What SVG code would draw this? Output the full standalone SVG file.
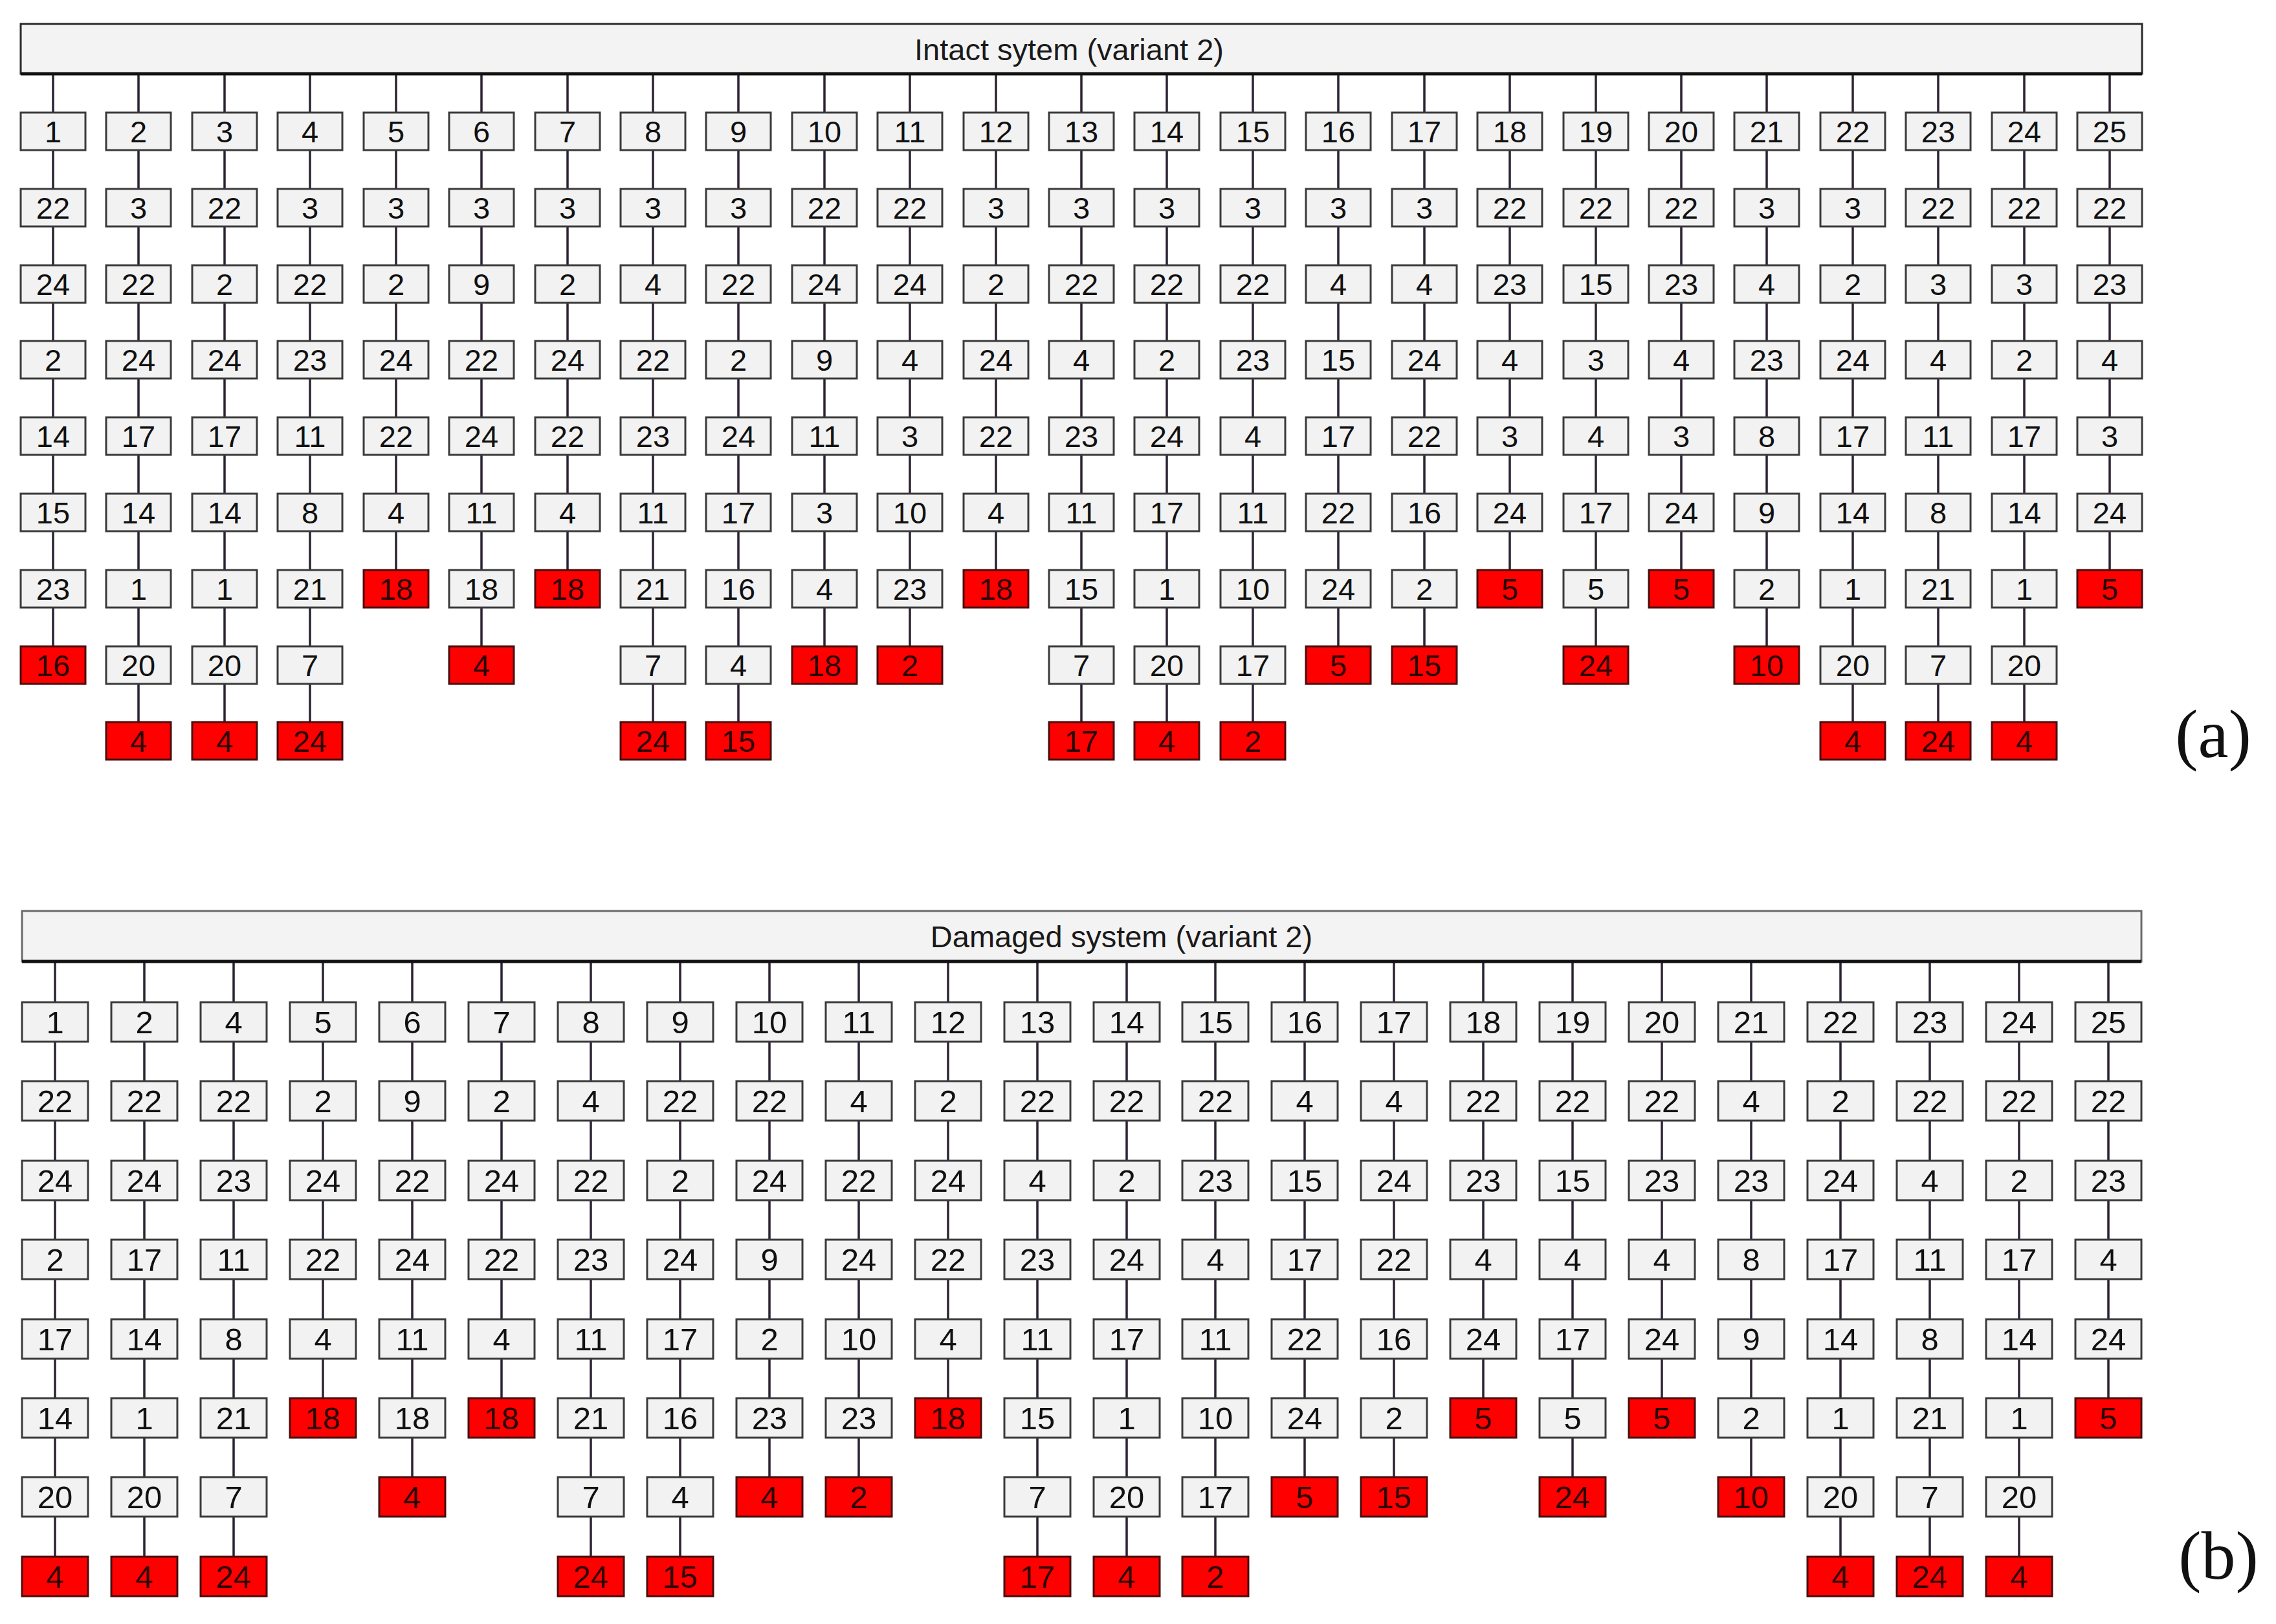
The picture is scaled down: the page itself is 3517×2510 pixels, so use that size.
<svg xmlns="http://www.w3.org/2000/svg" xmlns:xlink="http://www.w3.org/1999/xlink" width="3517" height="2510" viewBox="0 0 3517 2510">
<style>
.bg{fill:#ffffff}
.hd{fill:#f3f3f3;stroke:#2a2a2a;stroke-width:3}
.hdb{fill:#f3f3f3;stroke:#6a6a6a;stroke-width:3}
.hl{stroke:#111;stroke-width:5}
.ht{font-family:"Liberation Sans",Arial,sans-serif;font-size:47px;text-anchor:middle;fill:#1a1a1a}
.w{fill:#f2f2f2;stroke:#3a3a3a;stroke-width:3}
.r{fill:#ff0000;stroke:#4a0d0d;stroke-width:3}
.na text{font-family:"Liberation Sans",Arial,sans-serif;font-size:47px;text-anchor:middle;fill:#111}
.nb text{font-family:"Liberation Sans",Arial,sans-serif;font-size:49px;text-anchor:middle;fill:#111}
.na .rt,.nb .rt{fill:#2a0505}
.con path,.con use{stroke:#2b2233;stroke-width:3.5;fill:none}
.lab{font-family:"Liberation Serif","Times New Roman",serif;font-size:106px;text-anchor:middle;fill:#111}
</style>
<defs>
<path id="sa7" d="M0 114V174M0 232V292M0 350V410M0 468V527M0 585V645M0 703V763M0 821V881"/>
<path id="sa8" d="M0 114V174M0 232V292M0 350V410M0 468V527M0 585V645M0 703V763M0 821V881M0 939V999"/>
<path id="sa9" d="M0 114V174M0 232V292M0 350V410M0 468V527M0 585V645M0 703V763M0 821V881M0 939V999M0 1057V1116"/>
<path id="sb6" d="M0 1486V1549M0 1610V1671M0 1732V1794M0 1855V1916M0 1977V2039M0 2100V2161"/>
<path id="sb7" d="M0 1486V1549M0 1610V1671M0 1732V1794M0 1855V1916M0 1977V2039M0 2100V2161M0 2222V2283"/>
<path id="sb8" d="M0 1486V1549M0 1610V1671M0 1732V1794M0 1855V1916M0 1977V2039M0 2100V2161M0 2222V2283M0 2344V2406"/>
</defs>
<rect class="bg" x="0" y="0" width="3517" height="2510"/>

<g id="connectors" class="con">
<use href="#sa8" x="82"/><use href="#sa9" x="214"/><use href="#sa9" x="347"/><use href="#sa9" x="479"/><use href="#sa7" x="612"/>
<use href="#sa8" x="744"/><use href="#sa7" x="877"/><use href="#sa9" x="1009"/><use href="#sa9" x="1141"/><use href="#sa8" x="1274"/>
<use href="#sa8" x="1406"/><use href="#sa7" x="1539"/><use href="#sa9" x="1671"/><use href="#sa9" x="1803"/><use href="#sa9" x="1936"/>
<use href="#sa8" x="2068"/><use href="#sa8" x="2201"/><use href="#sa7" x="2333"/><use href="#sa8" x="2466"/><use href="#sa7" x="2598"/>
<use href="#sa8" x="2730"/><use href="#sa9" x="2863"/><use href="#sa9" x="2995"/><use href="#sa9" x="3128"/><use href="#sa7" x="3260"/>
<use href="#sb8" x="85"/><use href="#sb8" x="223"/><use href="#sb8" x="361"/><use href="#sb6" x="499"/><use href="#sb7" x="637"/>
<use href="#sb6" x="775"/><use href="#sb8" x="913"/><use href="#sb8" x="1051"/><use href="#sb7" x="1189"/><use href="#sb7" x="1327"/>
<use href="#sb6" x="1465"/><use href="#sb8" x="1603"/><use href="#sb8" x="1741"/><use href="#sb8" x="1878"/><use href="#sb7" x="2016"/>
<use href="#sb7" x="2154"/><use href="#sb6" x="2292"/><use href="#sb7" x="2430"/><use href="#sb6" x="2568"/><use href="#sb7" x="2706"/>
<use href="#sb8" x="2844"/><use href="#sb8" x="2982"/><use href="#sb8" x="3120"/><use href="#sb6" x="3258"/>
</g>

<g id="headerA"><rect class="hd" x="32" y="37" width="3278" height="77"/><line class="hl" x1="32" y1="114" x2="3310" y2="114"/><text class="ht" x="1652" y="93">Intact sytem (variant 2)</text></g>
<g id="headerB"><rect class="hdb" x="34" y="1408" width="3275" height="78"/><line class="hl" x1="34" y1="1486" x2="3309" y2="1486"/><text class="ht" x="1733" y="1464">Damaged system (variant 2)</text></g>

<g id="panelA" class="na">
<g id="a-col1" transform="translate(82 0)">
<g id="a1_1" transform="translate(0 174)"><rect class="w" x="-50" width="100" height="58"/><text y="46">1</text></g>
<g id="a1_2" transform="translate(0 292)"><rect class="w" x="-50" width="100" height="58"/><text y="46">22</text></g>
<g id="a1_3" transform="translate(0 410)"><rect class="w" x="-50" width="100" height="58"/><text y="46">24</text></g>
<g id="a1_4" transform="translate(0 527)"><rect class="w" x="-50" width="100" height="58"/><text y="46">2</text></g>
<g id="a1_5" transform="translate(0 645)"><rect class="w" x="-50" width="100" height="58"/><text y="46">14</text></g>
<g id="a1_6" transform="translate(0 763)"><rect class="w" x="-50" width="100" height="58"/><text y="46">15</text></g>
<g id="a1_7" transform="translate(0 881)"><rect class="w" x="-50" width="100" height="58"/><text y="46">23</text></g>
<g id="a1_8" transform="translate(0 999)"><rect class="r" x="-50" width="100" height="58"/><text class="rt" y="46">16</text></g>
</g>
<g id="a-col2" transform="translate(214 0)">
<g id="a2_1" transform="translate(0 174)"><rect class="w" x="-50" width="100" height="58"/><text y="46">2</text></g>
<g id="a2_2" transform="translate(0 292)"><rect class="w" x="-50" width="100" height="58"/><text y="46">3</text></g>
<g id="a2_3" transform="translate(0 410)"><rect class="w" x="-50" width="100" height="58"/><text y="46">22</text></g>
<g id="a2_4" transform="translate(0 527)"><rect class="w" x="-50" width="100" height="58"/><text y="46">24</text></g>
<g id="a2_5" transform="translate(0 645)"><rect class="w" x="-50" width="100" height="58"/><text y="46">17</text></g>
<g id="a2_6" transform="translate(0 763)"><rect class="w" x="-50" width="100" height="58"/><text y="46">14</text></g>
<g id="a2_7" transform="translate(0 881)"><rect class="w" x="-50" width="100" height="58"/><text y="46">1</text></g>
<g id="a2_8" transform="translate(0 999)"><rect class="w" x="-50" width="100" height="58"/><text y="46">20</text></g>
<g id="a2_9" transform="translate(0 1116)"><rect class="r" x="-50" width="100" height="58"/><text class="rt" y="46">4</text></g>
</g>
<g id="a-col3" transform="translate(347 0)">
<g id="a3_1" transform="translate(0 174)"><rect class="w" x="-50" width="100" height="58"/><text y="46">3</text></g>
<g id="a3_2" transform="translate(0 292)"><rect class="w" x="-50" width="100" height="58"/><text y="46">22</text></g>
<g id="a3_3" transform="translate(0 410)"><rect class="w" x="-50" width="100" height="58"/><text y="46">2</text></g>
<g id="a3_4" transform="translate(0 527)"><rect class="w" x="-50" width="100" height="58"/><text y="46">24</text></g>
<g id="a3_5" transform="translate(0 645)"><rect class="w" x="-50" width="100" height="58"/><text y="46">17</text></g>
<g id="a3_6" transform="translate(0 763)"><rect class="w" x="-50" width="100" height="58"/><text y="46">14</text></g>
<g id="a3_7" transform="translate(0 881)"><rect class="w" x="-50" width="100" height="58"/><text y="46">1</text></g>
<g id="a3_8" transform="translate(0 999)"><rect class="w" x="-50" width="100" height="58"/><text y="46">20</text></g>
<g id="a3_9" transform="translate(0 1116)"><rect class="r" x="-50" width="100" height="58"/><text class="rt" y="46">4</text></g>
</g>
<g id="a-col4" transform="translate(479 0)">
<g id="a4_1" transform="translate(0 174)"><rect class="w" x="-50" width="100" height="58"/><text y="46">4</text></g>
<g id="a4_2" transform="translate(0 292)"><rect class="w" x="-50" width="100" height="58"/><text y="46">3</text></g>
<g id="a4_3" transform="translate(0 410)"><rect class="w" x="-50" width="100" height="58"/><text y="46">22</text></g>
<g id="a4_4" transform="translate(0 527)"><rect class="w" x="-50" width="100" height="58"/><text y="46">23</text></g>
<g id="a4_5" transform="translate(0 645)"><rect class="w" x="-50" width="100" height="58"/><text y="46">11</text></g>
<g id="a4_6" transform="translate(0 763)"><rect class="w" x="-50" width="100" height="58"/><text y="46">8</text></g>
<g id="a4_7" transform="translate(0 881)"><rect class="w" x="-50" width="100" height="58"/><text y="46">21</text></g>
<g id="a4_8" transform="translate(0 999)"><rect class="w" x="-50" width="100" height="58"/><text y="46">7</text></g>
<g id="a4_9" transform="translate(0 1116)"><rect class="r" x="-50" width="100" height="58"/><text class="rt" y="46">24</text></g>
</g>
<g id="a-col5" transform="translate(612 0)">
<g id="a5_1" transform="translate(0 174)"><rect class="w" x="-50" width="100" height="58"/><text y="46">5</text></g>
<g id="a5_2" transform="translate(0 292)"><rect class="w" x="-50" width="100" height="58"/><text y="46">3</text></g>
<g id="a5_3" transform="translate(0 410)"><rect class="w" x="-50" width="100" height="58"/><text y="46">2</text></g>
<g id="a5_4" transform="translate(0 527)"><rect class="w" x="-50" width="100" height="58"/><text y="46">24</text></g>
<g id="a5_5" transform="translate(0 645)"><rect class="w" x="-50" width="100" height="58"/><text y="46">22</text></g>
<g id="a5_6" transform="translate(0 763)"><rect class="w" x="-50" width="100" height="58"/><text y="46">4</text></g>
<g id="a5_7" transform="translate(0 881)"><rect class="r" x="-50" width="100" height="58"/><text class="rt" y="46">18</text></g>
</g>
<g id="a-col6" transform="translate(744 0)">
<g id="a6_1" transform="translate(0 174)"><rect class="w" x="-50" width="100" height="58"/><text y="46">6</text></g>
<g id="a6_2" transform="translate(0 292)"><rect class="w" x="-50" width="100" height="58"/><text y="46">3</text></g>
<g id="a6_3" transform="translate(0 410)"><rect class="w" x="-50" width="100" height="58"/><text y="46">9</text></g>
<g id="a6_4" transform="translate(0 527)"><rect class="w" x="-50" width="100" height="58"/><text y="46">22</text></g>
<g id="a6_5" transform="translate(0 645)"><rect class="w" x="-50" width="100" height="58"/><text y="46">24</text></g>
<g id="a6_6" transform="translate(0 763)"><rect class="w" x="-50" width="100" height="58"/><text y="46">11</text></g>
<g id="a6_7" transform="translate(0 881)"><rect class="w" x="-50" width="100" height="58"/><text y="46">18</text></g>
<g id="a6_8" transform="translate(0 999)"><rect class="r" x="-50" width="100" height="58"/><text class="rt" y="46">4</text></g>
</g>
<g id="a-col7" transform="translate(877 0)">
<g id="a7_1" transform="translate(0 174)"><rect class="w" x="-50" width="100" height="58"/><text y="46">7</text></g>
<g id="a7_2" transform="translate(0 292)"><rect class="w" x="-50" width="100" height="58"/><text y="46">3</text></g>
<g id="a7_3" transform="translate(0 410)"><rect class="w" x="-50" width="100" height="58"/><text y="46">2</text></g>
<g id="a7_4" transform="translate(0 527)"><rect class="w" x="-50" width="100" height="58"/><text y="46">24</text></g>
<g id="a7_5" transform="translate(0 645)"><rect class="w" x="-50" width="100" height="58"/><text y="46">22</text></g>
<g id="a7_6" transform="translate(0 763)"><rect class="w" x="-50" width="100" height="58"/><text y="46">4</text></g>
<g id="a7_7" transform="translate(0 881)"><rect class="r" x="-50" width="100" height="58"/><text class="rt" y="46">18</text></g>
</g>
<g id="a-col8" transform="translate(1009 0)">
<g id="a8_1" transform="translate(0 174)"><rect class="w" x="-50" width="100" height="58"/><text y="46">8</text></g>
<g id="a8_2" transform="translate(0 292)"><rect class="w" x="-50" width="100" height="58"/><text y="46">3</text></g>
<g id="a8_3" transform="translate(0 410)"><rect class="w" x="-50" width="100" height="58"/><text y="46">4</text></g>
<g id="a8_4" transform="translate(0 527)"><rect class="w" x="-50" width="100" height="58"/><text y="46">22</text></g>
<g id="a8_5" transform="translate(0 645)"><rect class="w" x="-50" width="100" height="58"/><text y="46">23</text></g>
<g id="a8_6" transform="translate(0 763)"><rect class="w" x="-50" width="100" height="58"/><text y="46">11</text></g>
<g id="a8_7" transform="translate(0 881)"><rect class="w" x="-50" width="100" height="58"/><text y="46">21</text></g>
<g id="a8_8" transform="translate(0 999)"><rect class="w" x="-50" width="100" height="58"/><text y="46">7</text></g>
<g id="a8_9" transform="translate(0 1116)"><rect class="r" x="-50" width="100" height="58"/><text class="rt" y="46">24</text></g>
</g>
<g id="a-col9" transform="translate(1141 0)">
<g id="a9_1" transform="translate(0 174)"><rect class="w" x="-50" width="100" height="58"/><text y="46">9</text></g>
<g id="a9_2" transform="translate(0 292)"><rect class="w" x="-50" width="100" height="58"/><text y="46">3</text></g>
<g id="a9_3" transform="translate(0 410)"><rect class="w" x="-50" width="100" height="58"/><text y="46">22</text></g>
<g id="a9_4" transform="translate(0 527)"><rect class="w" x="-50" width="100" height="58"/><text y="46">2</text></g>
<g id="a9_5" transform="translate(0 645)"><rect class="w" x="-50" width="100" height="58"/><text y="46">24</text></g>
<g id="a9_6" transform="translate(0 763)"><rect class="w" x="-50" width="100" height="58"/><text y="46">17</text></g>
<g id="a9_7" transform="translate(0 881)"><rect class="w" x="-50" width="100" height="58"/><text y="46">16</text></g>
<g id="a9_8" transform="translate(0 999)"><rect class="w" x="-50" width="100" height="58"/><text y="46">4</text></g>
<g id="a9_9" transform="translate(0 1116)"><rect class="r" x="-50" width="100" height="58"/><text class="rt" y="46">15</text></g>
</g>
<g id="a-col10" transform="translate(1274 0)">
<g id="a10_1" transform="translate(0 174)"><rect class="w" x="-50" width="100" height="58"/><text y="46">10</text></g>
<g id="a10_2" transform="translate(0 292)"><rect class="w" x="-50" width="100" height="58"/><text y="46">22</text></g>
<g id="a10_3" transform="translate(0 410)"><rect class="w" x="-50" width="100" height="58"/><text y="46">24</text></g>
<g id="a10_4" transform="translate(0 527)"><rect class="w" x="-50" width="100" height="58"/><text y="46">9</text></g>
<g id="a10_5" transform="translate(0 645)"><rect class="w" x="-50" width="100" height="58"/><text y="46">11</text></g>
<g id="a10_6" transform="translate(0 763)"><rect class="w" x="-50" width="100" height="58"/><text y="46">3</text></g>
<g id="a10_7" transform="translate(0 881)"><rect class="w" x="-50" width="100" height="58"/><text y="46">4</text></g>
<g id="a10_8" transform="translate(0 999)"><rect class="r" x="-50" width="100" height="58"/><text class="rt" y="46">18</text></g>
</g>
<g id="a-col11" transform="translate(1406 0)">
<g id="a11_1" transform="translate(0 174)"><rect class="w" x="-50" width="100" height="58"/><text y="46">11</text></g>
<g id="a11_2" transform="translate(0 292)"><rect class="w" x="-50" width="100" height="58"/><text y="46">22</text></g>
<g id="a11_3" transform="translate(0 410)"><rect class="w" x="-50" width="100" height="58"/><text y="46">24</text></g>
<g id="a11_4" transform="translate(0 527)"><rect class="w" x="-50" width="100" height="58"/><text y="46">4</text></g>
<g id="a11_5" transform="translate(0 645)"><rect class="w" x="-50" width="100" height="58"/><text y="46">3</text></g>
<g id="a11_6" transform="translate(0 763)"><rect class="w" x="-50" width="100" height="58"/><text y="46">10</text></g>
<g id="a11_7" transform="translate(0 881)"><rect class="w" x="-50" width="100" height="58"/><text y="46">23</text></g>
<g id="a11_8" transform="translate(0 999)"><rect class="r" x="-50" width="100" height="58"/><text class="rt" y="46">2</text></g>
</g>
<g id="a-col12" transform="translate(1539 0)">
<g id="a12_1" transform="translate(0 174)"><rect class="w" x="-50" width="100" height="58"/><text y="46">12</text></g>
<g id="a12_2" transform="translate(0 292)"><rect class="w" x="-50" width="100" height="58"/><text y="46">3</text></g>
<g id="a12_3" transform="translate(0 410)"><rect class="w" x="-50" width="100" height="58"/><text y="46">2</text></g>
<g id="a12_4" transform="translate(0 527)"><rect class="w" x="-50" width="100" height="58"/><text y="46">24</text></g>
<g id="a12_5" transform="translate(0 645)"><rect class="w" x="-50" width="100" height="58"/><text y="46">22</text></g>
<g id="a12_6" transform="translate(0 763)"><rect class="w" x="-50" width="100" height="58"/><text y="46">4</text></g>
<g id="a12_7" transform="translate(0 881)"><rect class="r" x="-50" width="100" height="58"/><text class="rt" y="46">18</text></g>
</g>
<g id="a-col13" transform="translate(1671 0)">
<g id="a13_1" transform="translate(0 174)"><rect class="w" x="-50" width="100" height="58"/><text y="46">13</text></g>
<g id="a13_2" transform="translate(0 292)"><rect class="w" x="-50" width="100" height="58"/><text y="46">3</text></g>
<g id="a13_3" transform="translate(0 410)"><rect class="w" x="-50" width="100" height="58"/><text y="46">22</text></g>
<g id="a13_4" transform="translate(0 527)"><rect class="w" x="-50" width="100" height="58"/><text y="46">4</text></g>
<g id="a13_5" transform="translate(0 645)"><rect class="w" x="-50" width="100" height="58"/><text y="46">23</text></g>
<g id="a13_6" transform="translate(0 763)"><rect class="w" x="-50" width="100" height="58"/><text y="46">11</text></g>
<g id="a13_7" transform="translate(0 881)"><rect class="w" x="-50" width="100" height="58"/><text y="46">15</text></g>
<g id="a13_8" transform="translate(0 999)"><rect class="w" x="-50" width="100" height="58"/><text y="46">7</text></g>
<g id="a13_9" transform="translate(0 1116)"><rect class="r" x="-50" width="100" height="58"/><text class="rt" y="46">17</text></g>
</g>
<g id="a-col14" transform="translate(1803 0)">
<g id="a14_1" transform="translate(0 174)"><rect class="w" x="-50" width="100" height="58"/><text y="46">14</text></g>
<g id="a14_2" transform="translate(0 292)"><rect class="w" x="-50" width="100" height="58"/><text y="46">3</text></g>
<g id="a14_3" transform="translate(0 410)"><rect class="w" x="-50" width="100" height="58"/><text y="46">22</text></g>
<g id="a14_4" transform="translate(0 527)"><rect class="w" x="-50" width="100" height="58"/><text y="46">2</text></g>
<g id="a14_5" transform="translate(0 645)"><rect class="w" x="-50" width="100" height="58"/><text y="46">24</text></g>
<g id="a14_6" transform="translate(0 763)"><rect class="w" x="-50" width="100" height="58"/><text y="46">17</text></g>
<g id="a14_7" transform="translate(0 881)"><rect class="w" x="-50" width="100" height="58"/><text y="46">1</text></g>
<g id="a14_8" transform="translate(0 999)"><rect class="w" x="-50" width="100" height="58"/><text y="46">20</text></g>
<g id="a14_9" transform="translate(0 1116)"><rect class="r" x="-50" width="100" height="58"/><text class="rt" y="46">4</text></g>
</g>
<g id="a-col15" transform="translate(1936 0)">
<g id="a15_1" transform="translate(0 174)"><rect class="w" x="-50" width="100" height="58"/><text y="46">15</text></g>
<g id="a15_2" transform="translate(0 292)"><rect class="w" x="-50" width="100" height="58"/><text y="46">3</text></g>
<g id="a15_3" transform="translate(0 410)"><rect class="w" x="-50" width="100" height="58"/><text y="46">22</text></g>
<g id="a15_4" transform="translate(0 527)"><rect class="w" x="-50" width="100" height="58"/><text y="46">23</text></g>
<g id="a15_5" transform="translate(0 645)"><rect class="w" x="-50" width="100" height="58"/><text y="46">4</text></g>
<g id="a15_6" transform="translate(0 763)"><rect class="w" x="-50" width="100" height="58"/><text y="46">11</text></g>
<g id="a15_7" transform="translate(0 881)"><rect class="w" x="-50" width="100" height="58"/><text y="46">10</text></g>
<g id="a15_8" transform="translate(0 999)"><rect class="w" x="-50" width="100" height="58"/><text y="46">17</text></g>
<g id="a15_9" transform="translate(0 1116)"><rect class="r" x="-50" width="100" height="58"/><text class="rt" y="46">2</text></g>
</g>
<g id="a-col16" transform="translate(2068 0)">
<g id="a16_1" transform="translate(0 174)"><rect class="w" x="-50" width="100" height="58"/><text y="46">16</text></g>
<g id="a16_2" transform="translate(0 292)"><rect class="w" x="-50" width="100" height="58"/><text y="46">3</text></g>
<g id="a16_3" transform="translate(0 410)"><rect class="w" x="-50" width="100" height="58"/><text y="46">4</text></g>
<g id="a16_4" transform="translate(0 527)"><rect class="w" x="-50" width="100" height="58"/><text y="46">15</text></g>
<g id="a16_5" transform="translate(0 645)"><rect class="w" x="-50" width="100" height="58"/><text y="46">17</text></g>
<g id="a16_6" transform="translate(0 763)"><rect class="w" x="-50" width="100" height="58"/><text y="46">22</text></g>
<g id="a16_7" transform="translate(0 881)"><rect class="w" x="-50" width="100" height="58"/><text y="46">24</text></g>
<g id="a16_8" transform="translate(0 999)"><rect class="r" x="-50" width="100" height="58"/><text class="rt" y="46">5</text></g>
</g>
<g id="a-col17" transform="translate(2201 0)">
<g id="a17_1" transform="translate(0 174)"><rect class="w" x="-50" width="100" height="58"/><text y="46">17</text></g>
<g id="a17_2" transform="translate(0 292)"><rect class="w" x="-50" width="100" height="58"/><text y="46">3</text></g>
<g id="a17_3" transform="translate(0 410)"><rect class="w" x="-50" width="100" height="58"/><text y="46">4</text></g>
<g id="a17_4" transform="translate(0 527)"><rect class="w" x="-50" width="100" height="58"/><text y="46">24</text></g>
<g id="a17_5" transform="translate(0 645)"><rect class="w" x="-50" width="100" height="58"/><text y="46">22</text></g>
<g id="a17_6" transform="translate(0 763)"><rect class="w" x="-50" width="100" height="58"/><text y="46">16</text></g>
<g id="a17_7" transform="translate(0 881)"><rect class="w" x="-50" width="100" height="58"/><text y="46">2</text></g>
<g id="a17_8" transform="translate(0 999)"><rect class="r" x="-50" width="100" height="58"/><text class="rt" y="46">15</text></g>
</g>
<g id="a-col18" transform="translate(2333 0)">
<g id="a18_1" transform="translate(0 174)"><rect class="w" x="-50" width="100" height="58"/><text y="46">18</text></g>
<g id="a18_2" transform="translate(0 292)"><rect class="w" x="-50" width="100" height="58"/><text y="46">22</text></g>
<g id="a18_3" transform="translate(0 410)"><rect class="w" x="-50" width="100" height="58"/><text y="46">23</text></g>
<g id="a18_4" transform="translate(0 527)"><rect class="w" x="-50" width="100" height="58"/><text y="46">4</text></g>
<g id="a18_5" transform="translate(0 645)"><rect class="w" x="-50" width="100" height="58"/><text y="46">3</text></g>
<g id="a18_6" transform="translate(0 763)"><rect class="w" x="-50" width="100" height="58"/><text y="46">24</text></g>
<g id="a18_7" transform="translate(0 881)"><rect class="r" x="-50" width="100" height="58"/><text class="rt" y="46">5</text></g>
</g>
<g id="a-col19" transform="translate(2466 0)">
<g id="a19_1" transform="translate(0 174)"><rect class="w" x="-50" width="100" height="58"/><text y="46">19</text></g>
<g id="a19_2" transform="translate(0 292)"><rect class="w" x="-50" width="100" height="58"/><text y="46">22</text></g>
<g id="a19_3" transform="translate(0 410)"><rect class="w" x="-50" width="100" height="58"/><text y="46">15</text></g>
<g id="a19_4" transform="translate(0 527)"><rect class="w" x="-50" width="100" height="58"/><text y="46">3</text></g>
<g id="a19_5" transform="translate(0 645)"><rect class="w" x="-50" width="100" height="58"/><text y="46">4</text></g>
<g id="a19_6" transform="translate(0 763)"><rect class="w" x="-50" width="100" height="58"/><text y="46">17</text></g>
<g id="a19_7" transform="translate(0 881)"><rect class="w" x="-50" width="100" height="58"/><text y="46">5</text></g>
<g id="a19_8" transform="translate(0 999)"><rect class="r" x="-50" width="100" height="58"/><text class="rt" y="46">24</text></g>
</g>
<g id="a-col20" transform="translate(2598 0)">
<g id="a20_1" transform="translate(0 174)"><rect class="w" x="-50" width="100" height="58"/><text y="46">20</text></g>
<g id="a20_2" transform="translate(0 292)"><rect class="w" x="-50" width="100" height="58"/><text y="46">22</text></g>
<g id="a20_3" transform="translate(0 410)"><rect class="w" x="-50" width="100" height="58"/><text y="46">23</text></g>
<g id="a20_4" transform="translate(0 527)"><rect class="w" x="-50" width="100" height="58"/><text y="46">4</text></g>
<g id="a20_5" transform="translate(0 645)"><rect class="w" x="-50" width="100" height="58"/><text y="46">3</text></g>
<g id="a20_6" transform="translate(0 763)"><rect class="w" x="-50" width="100" height="58"/><text y="46">24</text></g>
<g id="a20_7" transform="translate(0 881)"><rect class="r" x="-50" width="100" height="58"/><text class="rt" y="46">5</text></g>
</g>
<g id="a-col21" transform="translate(2730 0)">
<g id="a21_1" transform="translate(0 174)"><rect class="w" x="-50" width="100" height="58"/><text y="46">21</text></g>
<g id="a21_2" transform="translate(0 292)"><rect class="w" x="-50" width="100" height="58"/><text y="46">3</text></g>
<g id="a21_3" transform="translate(0 410)"><rect class="w" x="-50" width="100" height="58"/><text y="46">4</text></g>
<g id="a21_4" transform="translate(0 527)"><rect class="w" x="-50" width="100" height="58"/><text y="46">23</text></g>
<g id="a21_5" transform="translate(0 645)"><rect class="w" x="-50" width="100" height="58"/><text y="46">8</text></g>
<g id="a21_6" transform="translate(0 763)"><rect class="w" x="-50" width="100" height="58"/><text y="46">9</text></g>
<g id="a21_7" transform="translate(0 881)"><rect class="w" x="-50" width="100" height="58"/><text y="46">2</text></g>
<g id="a21_8" transform="translate(0 999)"><rect class="r" x="-50" width="100" height="58"/><text class="rt" y="46">10</text></g>
</g>
<g id="a-col22" transform="translate(2863 0)">
<g id="a22_1" transform="translate(0 174)"><rect class="w" x="-50" width="100" height="58"/><text y="46">22</text></g>
<g id="a22_2" transform="translate(0 292)"><rect class="w" x="-50" width="100" height="58"/><text y="46">3</text></g>
<g id="a22_3" transform="translate(0 410)"><rect class="w" x="-50" width="100" height="58"/><text y="46">2</text></g>
<g id="a22_4" transform="translate(0 527)"><rect class="w" x="-50" width="100" height="58"/><text y="46">24</text></g>
<g id="a22_5" transform="translate(0 645)"><rect class="w" x="-50" width="100" height="58"/><text y="46">17</text></g>
<g id="a22_6" transform="translate(0 763)"><rect class="w" x="-50" width="100" height="58"/><text y="46">14</text></g>
<g id="a22_7" transform="translate(0 881)"><rect class="w" x="-50" width="100" height="58"/><text y="46">1</text></g>
<g id="a22_8" transform="translate(0 999)"><rect class="w" x="-50" width="100" height="58"/><text y="46">20</text></g>
<g id="a22_9" transform="translate(0 1116)"><rect class="r" x="-50" width="100" height="58"/><text class="rt" y="46">4</text></g>
</g>
<g id="a-col23" transform="translate(2995 0)">
<g id="a23_1" transform="translate(0 174)"><rect class="w" x="-50" width="100" height="58"/><text y="46">23</text></g>
<g id="a23_2" transform="translate(0 292)"><rect class="w" x="-50" width="100" height="58"/><text y="46">22</text></g>
<g id="a23_3" transform="translate(0 410)"><rect class="w" x="-50" width="100" height="58"/><text y="46">3</text></g>
<g id="a23_4" transform="translate(0 527)"><rect class="w" x="-50" width="100" height="58"/><text y="46">4</text></g>
<g id="a23_5" transform="translate(0 645)"><rect class="w" x="-50" width="100" height="58"/><text y="46">11</text></g>
<g id="a23_6" transform="translate(0 763)"><rect class="w" x="-50" width="100" height="58"/><text y="46">8</text></g>
<g id="a23_7" transform="translate(0 881)"><rect class="w" x="-50" width="100" height="58"/><text y="46">21</text></g>
<g id="a23_8" transform="translate(0 999)"><rect class="w" x="-50" width="100" height="58"/><text y="46">7</text></g>
<g id="a23_9" transform="translate(0 1116)"><rect class="r" x="-50" width="100" height="58"/><text class="rt" y="46">24</text></g>
</g>
<g id="a-col24" transform="translate(3128 0)">
<g id="a24_1" transform="translate(0 174)"><rect class="w" x="-50" width="100" height="58"/><text y="46">24</text></g>
<g id="a24_2" transform="translate(0 292)"><rect class="w" x="-50" width="100" height="58"/><text y="46">22</text></g>
<g id="a24_3" transform="translate(0 410)"><rect class="w" x="-50" width="100" height="58"/><text y="46">3</text></g>
<g id="a24_4" transform="translate(0 527)"><rect class="w" x="-50" width="100" height="58"/><text y="46">2</text></g>
<g id="a24_5" transform="translate(0 645)"><rect class="w" x="-50" width="100" height="58"/><text y="46">17</text></g>
<g id="a24_6" transform="translate(0 763)"><rect class="w" x="-50" width="100" height="58"/><text y="46">14</text></g>
<g id="a24_7" transform="translate(0 881)"><rect class="w" x="-50" width="100" height="58"/><text y="46">1</text></g>
<g id="a24_8" transform="translate(0 999)"><rect class="w" x="-50" width="100" height="58"/><text y="46">20</text></g>
<g id="a24_9" transform="translate(0 1116)"><rect class="r" x="-50" width="100" height="58"/><text class="rt" y="46">4</text></g>
</g>
<g id="a-col25" transform="translate(3260 0)">
<g id="a25_1" transform="translate(0 174)"><rect class="w" x="-50" width="100" height="58"/><text y="46">25</text></g>
<g id="a25_2" transform="translate(0 292)"><rect class="w" x="-50" width="100" height="58"/><text y="46">22</text></g>
<g id="a25_3" transform="translate(0 410)"><rect class="w" x="-50" width="100" height="58"/><text y="46">23</text></g>
<g id="a25_4" transform="translate(0 527)"><rect class="w" x="-50" width="100" height="58"/><text y="46">4</text></g>
<g id="a25_5" transform="translate(0 645)"><rect class="w" x="-50" width="100" height="58"/><text y="46">3</text></g>
<g id="a25_6" transform="translate(0 763)"><rect class="w" x="-50" width="100" height="58"/><text y="46">24</text></g>
<g id="a25_7" transform="translate(0 881)"><rect class="r" x="-50" width="100" height="58"/><text class="rt" y="46">5</text></g>
</g>
</g>

<g id="panelB" class="nb">
<g id="b-col1" transform="translate(85 0)">
<g id="b1_1" transform="translate(0 1549)"><rect class="w" x="-51" width="102" height="61"/><text y="48">1</text></g>
<g id="b1_2" transform="translate(0 1671)"><rect class="w" x="-51" width="102" height="61"/><text y="48">22</text></g>
<g id="b1_3" transform="translate(0 1794)"><rect class="w" x="-51" width="102" height="61"/><text y="48">24</text></g>
<g id="b1_4" transform="translate(0 1916)"><rect class="w" x="-51" width="102" height="61"/><text y="48">2</text></g>
<g id="b1_5" transform="translate(0 2039)"><rect class="w" x="-51" width="102" height="61"/><text y="48">17</text></g>
<g id="b1_6" transform="translate(0 2161)"><rect class="w" x="-51" width="102" height="61"/><text y="48">14</text></g>
<g id="b1_7" transform="translate(0 2283)"><rect class="w" x="-51" width="102" height="61"/><text y="48">20</text></g>
<g id="b1_8" transform="translate(0 2406)"><rect class="r" x="-51" width="102" height="61"/><text class="rt" y="48">4</text></g>
</g>
<g id="b-col2" transform="translate(223 0)">
<g id="b2_1" transform="translate(0 1549)"><rect class="w" x="-51" width="102" height="61"/><text y="48">2</text></g>
<g id="b2_2" transform="translate(0 1671)"><rect class="w" x="-51" width="102" height="61"/><text y="48">22</text></g>
<g id="b2_3" transform="translate(0 1794)"><rect class="w" x="-51" width="102" height="61"/><text y="48">24</text></g>
<g id="b2_4" transform="translate(0 1916)"><rect class="w" x="-51" width="102" height="61"/><text y="48">17</text></g>
<g id="b2_5" transform="translate(0 2039)"><rect class="w" x="-51" width="102" height="61"/><text y="48">14</text></g>
<g id="b2_6" transform="translate(0 2161)"><rect class="w" x="-51" width="102" height="61"/><text y="48">1</text></g>
<g id="b2_7" transform="translate(0 2283)"><rect class="w" x="-51" width="102" height="61"/><text y="48">20</text></g>
<g id="b2_8" transform="translate(0 2406)"><rect class="r" x="-51" width="102" height="61"/><text class="rt" y="48">4</text></g>
</g>
<g id="b-col4" transform="translate(361 0)">
<g id="b4_1" transform="translate(0 1549)"><rect class="w" x="-51" width="102" height="61"/><text y="48">4</text></g>
<g id="b4_2" transform="translate(0 1671)"><rect class="w" x="-51" width="102" height="61"/><text y="48">22</text></g>
<g id="b4_3" transform="translate(0 1794)"><rect class="w" x="-51" width="102" height="61"/><text y="48">23</text></g>
<g id="b4_4" transform="translate(0 1916)"><rect class="w" x="-51" width="102" height="61"/><text y="48">11</text></g>
<g id="b4_5" transform="translate(0 2039)"><rect class="w" x="-51" width="102" height="61"/><text y="48">8</text></g>
<g id="b4_6" transform="translate(0 2161)"><rect class="w" x="-51" width="102" height="61"/><text y="48">21</text></g>
<g id="b4_7" transform="translate(0 2283)"><rect class="w" x="-51" width="102" height="61"/><text y="48">7</text></g>
<g id="b4_8" transform="translate(0 2406)"><rect class="r" x="-51" width="102" height="61"/><text class="rt" y="48">24</text></g>
</g>
<g id="b-col5" transform="translate(499 0)">
<g id="b5_1" transform="translate(0 1549)"><rect class="w" x="-51" width="102" height="61"/><text y="48">5</text></g>
<g id="b5_2" transform="translate(0 1671)"><rect class="w" x="-51" width="102" height="61"/><text y="48">2</text></g>
<g id="b5_3" transform="translate(0 1794)"><rect class="w" x="-51" width="102" height="61"/><text y="48">24</text></g>
<g id="b5_4" transform="translate(0 1916)"><rect class="w" x="-51" width="102" height="61"/><text y="48">22</text></g>
<g id="b5_5" transform="translate(0 2039)"><rect class="w" x="-51" width="102" height="61"/><text y="48">4</text></g>
<g id="b5_6" transform="translate(0 2161)"><rect class="r" x="-51" width="102" height="61"/><text class="rt" y="48">18</text></g>
</g>
<g id="b-col6" transform="translate(637 0)">
<g id="b6_1" transform="translate(0 1549)"><rect class="w" x="-51" width="102" height="61"/><text y="48">6</text></g>
<g id="b6_2" transform="translate(0 1671)"><rect class="w" x="-51" width="102" height="61"/><text y="48">9</text></g>
<g id="b6_3" transform="translate(0 1794)"><rect class="w" x="-51" width="102" height="61"/><text y="48">22</text></g>
<g id="b6_4" transform="translate(0 1916)"><rect class="w" x="-51" width="102" height="61"/><text y="48">24</text></g>
<g id="b6_5" transform="translate(0 2039)"><rect class="w" x="-51" width="102" height="61"/><text y="48">11</text></g>
<g id="b6_6" transform="translate(0 2161)"><rect class="w" x="-51" width="102" height="61"/><text y="48">18</text></g>
<g id="b6_7" transform="translate(0 2283)"><rect class="r" x="-51" width="102" height="61"/><text class="rt" y="48">4</text></g>
</g>
<g id="b-col7" transform="translate(775 0)">
<g id="b7_1" transform="translate(0 1549)"><rect class="w" x="-51" width="102" height="61"/><text y="48">7</text></g>
<g id="b7_2" transform="translate(0 1671)"><rect class="w" x="-51" width="102" height="61"/><text y="48">2</text></g>
<g id="b7_3" transform="translate(0 1794)"><rect class="w" x="-51" width="102" height="61"/><text y="48">24</text></g>
<g id="b7_4" transform="translate(0 1916)"><rect class="w" x="-51" width="102" height="61"/><text y="48">22</text></g>
<g id="b7_5" transform="translate(0 2039)"><rect class="w" x="-51" width="102" height="61"/><text y="48">4</text></g>
<g id="b7_6" transform="translate(0 2161)"><rect class="r" x="-51" width="102" height="61"/><text class="rt" y="48">18</text></g>
</g>
<g id="b-col8" transform="translate(913 0)">
<g id="b8_1" transform="translate(0 1549)"><rect class="w" x="-51" width="102" height="61"/><text y="48">8</text></g>
<g id="b8_2" transform="translate(0 1671)"><rect class="w" x="-51" width="102" height="61"/><text y="48">4</text></g>
<g id="b8_3" transform="translate(0 1794)"><rect class="w" x="-51" width="102" height="61"/><text y="48">22</text></g>
<g id="b8_4" transform="translate(0 1916)"><rect class="w" x="-51" width="102" height="61"/><text y="48">23</text></g>
<g id="b8_5" transform="translate(0 2039)"><rect class="w" x="-51" width="102" height="61"/><text y="48">11</text></g>
<g id="b8_6" transform="translate(0 2161)"><rect class="w" x="-51" width="102" height="61"/><text y="48">21</text></g>
<g id="b8_7" transform="translate(0 2283)"><rect class="w" x="-51" width="102" height="61"/><text y="48">7</text></g>
<g id="b8_8" transform="translate(0 2406)"><rect class="r" x="-51" width="102" height="61"/><text class="rt" y="48">24</text></g>
</g>
<g id="b-col9" transform="translate(1051 0)">
<g id="b9_1" transform="translate(0 1549)"><rect class="w" x="-51" width="102" height="61"/><text y="48">9</text></g>
<g id="b9_2" transform="translate(0 1671)"><rect class="w" x="-51" width="102" height="61"/><text y="48">22</text></g>
<g id="b9_3" transform="translate(0 1794)"><rect class="w" x="-51" width="102" height="61"/><text y="48">2</text></g>
<g id="b9_4" transform="translate(0 1916)"><rect class="w" x="-51" width="102" height="61"/><text y="48">24</text></g>
<g id="b9_5" transform="translate(0 2039)"><rect class="w" x="-51" width="102" height="61"/><text y="48">17</text></g>
<g id="b9_6" transform="translate(0 2161)"><rect class="w" x="-51" width="102" height="61"/><text y="48">16</text></g>
<g id="b9_7" transform="translate(0 2283)"><rect class="w" x="-51" width="102" height="61"/><text y="48">4</text></g>
<g id="b9_8" transform="translate(0 2406)"><rect class="r" x="-51" width="102" height="61"/><text class="rt" y="48">15</text></g>
</g>
<g id="b-col10" transform="translate(1189 0)">
<g id="b10_1" transform="translate(0 1549)"><rect class="w" x="-51" width="102" height="61"/><text y="48">10</text></g>
<g id="b10_2" transform="translate(0 1671)"><rect class="w" x="-51" width="102" height="61"/><text y="48">22</text></g>
<g id="b10_3" transform="translate(0 1794)"><rect class="w" x="-51" width="102" height="61"/><text y="48">24</text></g>
<g id="b10_4" transform="translate(0 1916)"><rect class="w" x="-51" width="102" height="61"/><text y="48">9</text></g>
<g id="b10_5" transform="translate(0 2039)"><rect class="w" x="-51" width="102" height="61"/><text y="48">2</text></g>
<g id="b10_6" transform="translate(0 2161)"><rect class="w" x="-51" width="102" height="61"/><text y="48">23</text></g>
<g id="b10_7" transform="translate(0 2283)"><rect class="r" x="-51" width="102" height="61"/><text class="rt" y="48">4</text></g>
</g>
<g id="b-col11" transform="translate(1327 0)">
<g id="b11_1" transform="translate(0 1549)"><rect class="w" x="-51" width="102" height="61"/><text y="48">11</text></g>
<g id="b11_2" transform="translate(0 1671)"><rect class="w" x="-51" width="102" height="61"/><text y="48">4</text></g>
<g id="b11_3" transform="translate(0 1794)"><rect class="w" x="-51" width="102" height="61"/><text y="48">22</text></g>
<g id="b11_4" transform="translate(0 1916)"><rect class="w" x="-51" width="102" height="61"/><text y="48">24</text></g>
<g id="b11_5" transform="translate(0 2039)"><rect class="w" x="-51" width="102" height="61"/><text y="48">10</text></g>
<g id="b11_6" transform="translate(0 2161)"><rect class="w" x="-51" width="102" height="61"/><text y="48">23</text></g>
<g id="b11_7" transform="translate(0 2283)"><rect class="r" x="-51" width="102" height="61"/><text class="rt" y="48">2</text></g>
</g>
<g id="b-col12" transform="translate(1465 0)">
<g id="b12_1" transform="translate(0 1549)"><rect class="w" x="-51" width="102" height="61"/><text y="48">12</text></g>
<g id="b12_2" transform="translate(0 1671)"><rect class="w" x="-51" width="102" height="61"/><text y="48">2</text></g>
<g id="b12_3" transform="translate(0 1794)"><rect class="w" x="-51" width="102" height="61"/><text y="48">24</text></g>
<g id="b12_4" transform="translate(0 1916)"><rect class="w" x="-51" width="102" height="61"/><text y="48">22</text></g>
<g id="b12_5" transform="translate(0 2039)"><rect class="w" x="-51" width="102" height="61"/><text y="48">4</text></g>
<g id="b12_6" transform="translate(0 2161)"><rect class="r" x="-51" width="102" height="61"/><text class="rt" y="48">18</text></g>
</g>
<g id="b-col13" transform="translate(1603 0)">
<g id="b13_1" transform="translate(0 1549)"><rect class="w" x="-51" width="102" height="61"/><text y="48">13</text></g>
<g id="b13_2" transform="translate(0 1671)"><rect class="w" x="-51" width="102" height="61"/><text y="48">22</text></g>
<g id="b13_3" transform="translate(0 1794)"><rect class="w" x="-51" width="102" height="61"/><text y="48">4</text></g>
<g id="b13_4" transform="translate(0 1916)"><rect class="w" x="-51" width="102" height="61"/><text y="48">23</text></g>
<g id="b13_5" transform="translate(0 2039)"><rect class="w" x="-51" width="102" height="61"/><text y="48">11</text></g>
<g id="b13_6" transform="translate(0 2161)"><rect class="w" x="-51" width="102" height="61"/><text y="48">15</text></g>
<g id="b13_7" transform="translate(0 2283)"><rect class="w" x="-51" width="102" height="61"/><text y="48">7</text></g>
<g id="b13_8" transform="translate(0 2406)"><rect class="r" x="-51" width="102" height="61"/><text class="rt" y="48">17</text></g>
</g>
<g id="b-col14" transform="translate(1741 0)">
<g id="b14_1" transform="translate(0 1549)"><rect class="w" x="-51" width="102" height="61"/><text y="48">14</text></g>
<g id="b14_2" transform="translate(0 1671)"><rect class="w" x="-51" width="102" height="61"/><text y="48">22</text></g>
<g id="b14_3" transform="translate(0 1794)"><rect class="w" x="-51" width="102" height="61"/><text y="48">2</text></g>
<g id="b14_4" transform="translate(0 1916)"><rect class="w" x="-51" width="102" height="61"/><text y="48">24</text></g>
<g id="b14_5" transform="translate(0 2039)"><rect class="w" x="-51" width="102" height="61"/><text y="48">17</text></g>
<g id="b14_6" transform="translate(0 2161)"><rect class="w" x="-51" width="102" height="61"/><text y="48">1</text></g>
<g id="b14_7" transform="translate(0 2283)"><rect class="w" x="-51" width="102" height="61"/><text y="48">20</text></g>
<g id="b14_8" transform="translate(0 2406)"><rect class="r" x="-51" width="102" height="61"/><text class="rt" y="48">4</text></g>
</g>
<g id="b-col15" transform="translate(1878 0)">
<g id="b15_1" transform="translate(0 1549)"><rect class="w" x="-51" width="102" height="61"/><text y="48">15</text></g>
<g id="b15_2" transform="translate(0 1671)"><rect class="w" x="-51" width="102" height="61"/><text y="48">22</text></g>
<g id="b15_3" transform="translate(0 1794)"><rect class="w" x="-51" width="102" height="61"/><text y="48">23</text></g>
<g id="b15_4" transform="translate(0 1916)"><rect class="w" x="-51" width="102" height="61"/><text y="48">4</text></g>
<g id="b15_5" transform="translate(0 2039)"><rect class="w" x="-51" width="102" height="61"/><text y="48">11</text></g>
<g id="b15_6" transform="translate(0 2161)"><rect class="w" x="-51" width="102" height="61"/><text y="48">10</text></g>
<g id="b15_7" transform="translate(0 2283)"><rect class="w" x="-51" width="102" height="61"/><text y="48">17</text></g>
<g id="b15_8" transform="translate(0 2406)"><rect class="r" x="-51" width="102" height="61"/><text class="rt" y="48">2</text></g>
</g>
<g id="b-col16" transform="translate(2016 0)">
<g id="b16_1" transform="translate(0 1549)"><rect class="w" x="-51" width="102" height="61"/><text y="48">16</text></g>
<g id="b16_2" transform="translate(0 1671)"><rect class="w" x="-51" width="102" height="61"/><text y="48">4</text></g>
<g id="b16_3" transform="translate(0 1794)"><rect class="w" x="-51" width="102" height="61"/><text y="48">15</text></g>
<g id="b16_4" transform="translate(0 1916)"><rect class="w" x="-51" width="102" height="61"/><text y="48">17</text></g>
<g id="b16_5" transform="translate(0 2039)"><rect class="w" x="-51" width="102" height="61"/><text y="48">22</text></g>
<g id="b16_6" transform="translate(0 2161)"><rect class="w" x="-51" width="102" height="61"/><text y="48">24</text></g>
<g id="b16_7" transform="translate(0 2283)"><rect class="r" x="-51" width="102" height="61"/><text class="rt" y="48">5</text></g>
</g>
<g id="b-col17" transform="translate(2154 0)">
<g id="b17_1" transform="translate(0 1549)"><rect class="w" x="-51" width="102" height="61"/><text y="48">17</text></g>
<g id="b17_2" transform="translate(0 1671)"><rect class="w" x="-51" width="102" height="61"/><text y="48">4</text></g>
<g id="b17_3" transform="translate(0 1794)"><rect class="w" x="-51" width="102" height="61"/><text y="48">24</text></g>
<g id="b17_4" transform="translate(0 1916)"><rect class="w" x="-51" width="102" height="61"/><text y="48">22</text></g>
<g id="b17_5" transform="translate(0 2039)"><rect class="w" x="-51" width="102" height="61"/><text y="48">16</text></g>
<g id="b17_6" transform="translate(0 2161)"><rect class="w" x="-51" width="102" height="61"/><text y="48">2</text></g>
<g id="b17_7" transform="translate(0 2283)"><rect class="r" x="-51" width="102" height="61"/><text class="rt" y="48">15</text></g>
</g>
<g id="b-col18" transform="translate(2292 0)">
<g id="b18_1" transform="translate(0 1549)"><rect class="w" x="-51" width="102" height="61"/><text y="48">18</text></g>
<g id="b18_2" transform="translate(0 1671)"><rect class="w" x="-51" width="102" height="61"/><text y="48">22</text></g>
<g id="b18_3" transform="translate(0 1794)"><rect class="w" x="-51" width="102" height="61"/><text y="48">23</text></g>
<g id="b18_4" transform="translate(0 1916)"><rect class="w" x="-51" width="102" height="61"/><text y="48">4</text></g>
<g id="b18_5" transform="translate(0 2039)"><rect class="w" x="-51" width="102" height="61"/><text y="48">24</text></g>
<g id="b18_6" transform="translate(0 2161)"><rect class="r" x="-51" width="102" height="61"/><text class="rt" y="48">5</text></g>
</g>
<g id="b-col19" transform="translate(2430 0)">
<g id="b19_1" transform="translate(0 1549)"><rect class="w" x="-51" width="102" height="61"/><text y="48">19</text></g>
<g id="b19_2" transform="translate(0 1671)"><rect class="w" x="-51" width="102" height="61"/><text y="48">22</text></g>
<g id="b19_3" transform="translate(0 1794)"><rect class="w" x="-51" width="102" height="61"/><text y="48">15</text></g>
<g id="b19_4" transform="translate(0 1916)"><rect class="w" x="-51" width="102" height="61"/><text y="48">4</text></g>
<g id="b19_5" transform="translate(0 2039)"><rect class="w" x="-51" width="102" height="61"/><text y="48">17</text></g>
<g id="b19_6" transform="translate(0 2161)"><rect class="w" x="-51" width="102" height="61"/><text y="48">5</text></g>
<g id="b19_7" transform="translate(0 2283)"><rect class="r" x="-51" width="102" height="61"/><text class="rt" y="48">24</text></g>
</g>
<g id="b-col20" transform="translate(2568 0)">
<g id="b20_1" transform="translate(0 1549)"><rect class="w" x="-51" width="102" height="61"/><text y="48">20</text></g>
<g id="b20_2" transform="translate(0 1671)"><rect class="w" x="-51" width="102" height="61"/><text y="48">22</text></g>
<g id="b20_3" transform="translate(0 1794)"><rect class="w" x="-51" width="102" height="61"/><text y="48">23</text></g>
<g id="b20_4" transform="translate(0 1916)"><rect class="w" x="-51" width="102" height="61"/><text y="48">4</text></g>
<g id="b20_5" transform="translate(0 2039)"><rect class="w" x="-51" width="102" height="61"/><text y="48">24</text></g>
<g id="b20_6" transform="translate(0 2161)"><rect class="r" x="-51" width="102" height="61"/><text class="rt" y="48">5</text></g>
</g>
<g id="b-col21" transform="translate(2706 0)">
<g id="b21_1" transform="translate(0 1549)"><rect class="w" x="-51" width="102" height="61"/><text y="48">21</text></g>
<g id="b21_2" transform="translate(0 1671)"><rect class="w" x="-51" width="102" height="61"/><text y="48">4</text></g>
<g id="b21_3" transform="translate(0 1794)"><rect class="w" x="-51" width="102" height="61"/><text y="48">23</text></g>
<g id="b21_4" transform="translate(0 1916)"><rect class="w" x="-51" width="102" height="61"/><text y="48">8</text></g>
<g id="b21_5" transform="translate(0 2039)"><rect class="w" x="-51" width="102" height="61"/><text y="48">9</text></g>
<g id="b21_6" transform="translate(0 2161)"><rect class="w" x="-51" width="102" height="61"/><text y="48">2</text></g>
<g id="b21_7" transform="translate(0 2283)"><rect class="r" x="-51" width="102" height="61"/><text class="rt" y="48">10</text></g>
</g>
<g id="b-col22" transform="translate(2844 0)">
<g id="b22_1" transform="translate(0 1549)"><rect class="w" x="-51" width="102" height="61"/><text y="48">22</text></g>
<g id="b22_2" transform="translate(0 1671)"><rect class="w" x="-51" width="102" height="61"/><text y="48">2</text></g>
<g id="b22_3" transform="translate(0 1794)"><rect class="w" x="-51" width="102" height="61"/><text y="48">24</text></g>
<g id="b22_4" transform="translate(0 1916)"><rect class="w" x="-51" width="102" height="61"/><text y="48">17</text></g>
<g id="b22_5" transform="translate(0 2039)"><rect class="w" x="-51" width="102" height="61"/><text y="48">14</text></g>
<g id="b22_6" transform="translate(0 2161)"><rect class="w" x="-51" width="102" height="61"/><text y="48">1</text></g>
<g id="b22_7" transform="translate(0 2283)"><rect class="w" x="-51" width="102" height="61"/><text y="48">20</text></g>
<g id="b22_8" transform="translate(0 2406)"><rect class="r" x="-51" width="102" height="61"/><text class="rt" y="48">4</text></g>
</g>
<g id="b-col23" transform="translate(2982 0)">
<g id="b23_1" transform="translate(0 1549)"><rect class="w" x="-51" width="102" height="61"/><text y="48">23</text></g>
<g id="b23_2" transform="translate(0 1671)"><rect class="w" x="-51" width="102" height="61"/><text y="48">22</text></g>
<g id="b23_3" transform="translate(0 1794)"><rect class="w" x="-51" width="102" height="61"/><text y="48">4</text></g>
<g id="b23_4" transform="translate(0 1916)"><rect class="w" x="-51" width="102" height="61"/><text y="48">11</text></g>
<g id="b23_5" transform="translate(0 2039)"><rect class="w" x="-51" width="102" height="61"/><text y="48">8</text></g>
<g id="b23_6" transform="translate(0 2161)"><rect class="w" x="-51" width="102" height="61"/><text y="48">21</text></g>
<g id="b23_7" transform="translate(0 2283)"><rect class="w" x="-51" width="102" height="61"/><text y="48">7</text></g>
<g id="b23_8" transform="translate(0 2406)"><rect class="r" x="-51" width="102" height="61"/><text class="rt" y="48">24</text></g>
</g>
<g id="b-col24" transform="translate(3120 0)">
<g id="b24_1" transform="translate(0 1549)"><rect class="w" x="-51" width="102" height="61"/><text y="48">24</text></g>
<g id="b24_2" transform="translate(0 1671)"><rect class="w" x="-51" width="102" height="61"/><text y="48">22</text></g>
<g id="b24_3" transform="translate(0 1794)"><rect class="w" x="-51" width="102" height="61"/><text y="48">2</text></g>
<g id="b24_4" transform="translate(0 1916)"><rect class="w" x="-51" width="102" height="61"/><text y="48">17</text></g>
<g id="b24_5" transform="translate(0 2039)"><rect class="w" x="-51" width="102" height="61"/><text y="48">14</text></g>
<g id="b24_6" transform="translate(0 2161)"><rect class="w" x="-51" width="102" height="61"/><text y="48">1</text></g>
<g id="b24_7" transform="translate(0 2283)"><rect class="w" x="-51" width="102" height="61"/><text y="48">20</text></g>
<g id="b24_8" transform="translate(0 2406)"><rect class="r" x="-51" width="102" height="61"/><text class="rt" y="48">4</text></g>
</g>
<g id="b-col25" transform="translate(3258 0)">
<g id="b25_1" transform="translate(0 1549)"><rect class="w" x="-51" width="102" height="61"/><text y="48">25</text></g>
<g id="b25_2" transform="translate(0 1671)"><rect class="w" x="-51" width="102" height="61"/><text y="48">22</text></g>
<g id="b25_3" transform="translate(0 1794)"><rect class="w" x="-51" width="102" height="61"/><text y="48">23</text></g>
<g id="b25_4" transform="translate(0 1916)"><rect class="w" x="-51" width="102" height="61"/><text y="48">4</text></g>
<g id="b25_5" transform="translate(0 2039)"><rect class="w" x="-51" width="102" height="61"/><text y="48">24</text></g>
<g id="b25_6" transform="translate(0 2161)"><rect class="r" x="-51" width="102" height="61"/><text class="rt" y="48">5</text></g>
</g>
</g>

<text id="labelA" class="lab" x="3420" y="1170">(a)</text>
<text id="labelB" class="lab" x="3428" y="2440">(b)</text>
</svg>
